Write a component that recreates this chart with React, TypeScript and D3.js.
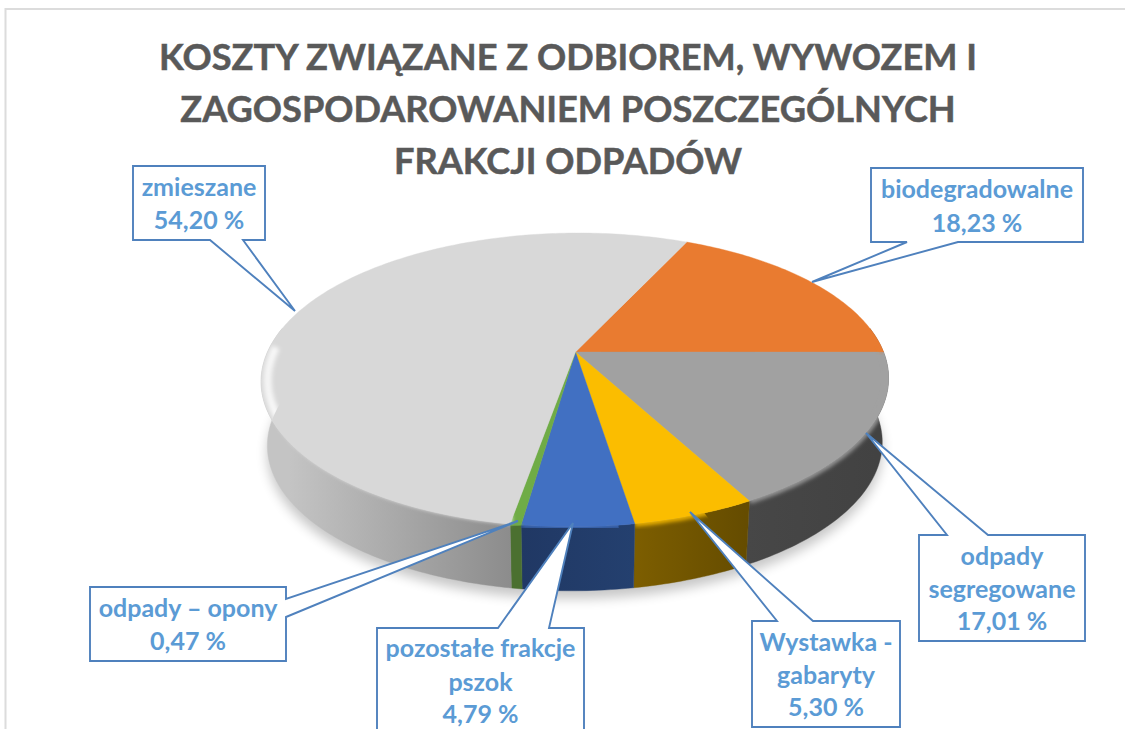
import React from "react";
import * as d3 from "d3";

// ---- data ----
const titleLines = [
  "KOSZTY ZWIĄZANE Z ODBIOREM, WYWOZEM I",
  "ZAGOSPODAROWANIEM POSZCZEGÓLNYCH",
  "FRAKCJI ODPADÓW",
];
const categories = [
  "biodegradowalne",
  "odpady segregowane",
  "Wystawka - gabaryty",
  "pozostałe frakcje pszok",
  "odpady – opony",
  "zmieszane",
];
const values = [18.23, 17.01, 5.3, 4.79, 0.47, 54.2];
const categoryLines = [
  ["biodegradowalne"],
  ["odpady", "segregowane"],
  ["Wystawka -", "gabaryty"],
  ["pozostałe frakcje", "pszok"],
  ["odpady – opony"],
  ["zmieszane"],
];

// ---- styles and layout ----
const W = 1125;
const H = 729;
const topColors = ["#e97b30", "#a1a1a1", "#fbbd00", "#4170c2", "#6fac46", "#d8d8d8"];
const wallStops = [
  ["#7f3f10", "#7f3f10"],
  ["#474747", "#424242"],
  ["#7d5e00", "#654c00"],
  ["#203864", "#24406f"],
  ["#4b7030", "#4b7030"],
  ["#c4c4c4", "#8c8c8c"],
];
const lineColor = "#4f81bd";
const textColor = "#5b9bd5";
const callouts = [
  { box: [871, 168, 1083, 242], side: "bottom", base: [958, 907], tip: [812, 282], baselines: [198, 232] },
  { box: [919, 535, 1085, 641], side: "top", base: [947, 988], tip: [866, 433], baselines: [565, 598, 630] },
  { box: [752, 621, 900, 727], side: "top", base: [777, 813], tip: [690, 512], baselines: [651, 684, 716] },
  { box: [377, 628, 584, 760], side: "top", base: [498, 549], tip: [573, 523], baselines: [657, 691, 723] },
  { box: [90, 587, 286, 661], side: "right", base: [599, 617], tip: [518, 521], baselines: [617, 650] },
  { box: [133, 166, 265, 240], side: "bottom", base: [243, 210], tip: [295, 311], baselines: [196, 229] },
];

// ---- perspective pie geometry ----
const cx = 575.5;
const cy = 352;
const k = 0.19;
const Ry = 141.6;
const Rx = 308;
const depth = 64;
const shear = 0.025;
const startDeg = 24.4;

const sx = d3.scaleLinear().domain([-1, 1]).range([cx - Rx, cx + Rx]);
const sy = d3.scaleLinear().domain([-1, 1]).range([cy - Ry, cy + Ry]);
type P = [number, number];
const project = (a: number, r = 1): P => {
  const u = r * Math.sin(a);
  const v = -r * Math.cos(a);
  const w = 1 - k * v;
  const y = sy(v / w);
  return [sx(u / w) - shear * (y - cy), y];
};
const lower = ([x, y]: P): P => [cx + (x - cx) * 0.98, cy + depth + (y - cy)];
const arcPts = (a0: number, a1: number, r = 1): P[] => {
  const n = Math.max(2, Math.ceil(Math.abs(a1 - a0) * 60));
  return d3.range(n + 1).map((i) => project(a0 + ((a1 - a0) * i) / n, r));
};
const line = d3.line<P>().x((d) => d[0]).y((d) => d[1]);
const closed = (pts: P[]) => (line(pts) as string) + "Z";
const rad = (d: number) => (d * Math.PI) / 180;

const arcs = d3
  .pie<number>()
  .sort(null)
  .startAngle(rad(startDeg))
  .endAngle(rad(startDeg) + 2 * Math.PI)(values);

const visFrom = rad(80);
const visTo = rad(280);
const pct = (v: number) => d3.format(".2f")(v).replace(".", ",") + " %";

function calloutPath(c: (typeof callouts)[number]) {
  const [x0, y0, x1, y1] = c.box;
  const t = c.tip as P;
  const [b0, b1] = c.base;
  let pts: P[];
  if (c.side === "top") pts = [[x0, y0], [b0, y0], t, [b1, y0], [x1, y0], [x1, y1], [x0, y1]];
  else if (c.side === "bottom") pts = [[x0, y0], [x1, y0], [x1, y1], [b0, y1], t, [b1, y1], [x0, y1]];
  else pts = [[x0, y0], [x1, y0], [x1, b0], t, [x1, b1], [x1, y1], [x0, y1]];
  return closed(pts);
}

export default function App() {
  const full = arcPts(0, 2 * Math.PI);
  return (
    <svg
      width={W}
      height={H}
      viewBox={`0 0 ${W} ${H}`}
      style={{ position: "absolute", left: 0, top: 0, display: "block", background: "#fff" }}
    >
      <defs>
        <filter id="shadow" x="-10%" y="-20%" width="120%" height="140%">
          <feGaussianBlur stdDeviation="6" />
        </filter>
        <filter id="rimBlur" x="-20%" y="-20%" width="140%" height="140%">
          <feGaussianBlur stdDeviation="1.9" />
        </filter>
        <linearGradient id="whiteFade" gradientUnits="userSpaceOnUse" x1={262} x2={295} y1={0} y2={0}>
          <stop offset="0" stopColor="#fff" stopOpacity={0.7} />
          <stop offset="1" stopColor="#fff" stopOpacity={1} />
        </linearGradient>
        {arcs.map((a, i) => {
          const s = lower(project(Math.max(a.startAngle, visFrom)));
          const e = lower(project(Math.min(a.endAngle, visTo)));
          return (
            <linearGradient
              key={i}
              id={`wall${i}`}
              gradientUnits="userSpaceOnUse"
              x1={Math.min(s[0], e[0])}
              x2={Math.max(s[0], e[0])}
              y1={0}
              y2={0}
            >
              <stop offset="0" stopColor={wallStops[i][0]} />
              <stop offset="1" stopColor={wallStops[i][1]} />
            </linearGradient>
          );
        })}
        {arcs.map((a, i) => {
          const top = arcPts(a.startAngle, a.endAngle);
          return (
            <clipPath key={i} id={`sector${i}`}>
              <path d={closed([[cx, cy], ...top, ...top.map(lower).reverse()])} />
            </clipPath>
          );
        })}
      </defs>

      {/* frame */}
      <path d={`M5.5,${H}V9H${W}`} fill="none" stroke="#dcdcdc" strokeWidth={2} />

      {/* title */}
      <g fontFamily="Lato" fontWeight={700} fontSize={36.2} fill="#595959" textAnchor="middle">
        {titleLines.map((t, i) => (
          <text key={t} x={568} y={[70, 122, 174][i]} stroke="#595959" strokeWidth={0.5}>
            {t}
          </text>
        ))}
      </g>

      {/* soft shadow */}
      <path
        d={closed(full.map(lower))}
        transform="translate(0,8)"
        fill="#000"
        opacity={0.22}
        filter="url(#shadow)"
      />

      {/* side wall */}
      {arcs.map((a, i) => {
        const s = Math.max(a.startAngle, visFrom);
        const e = Math.min(a.endAngle, visTo);
        if (e <= s) return null;
        const rim = arcPts(s, e);
        return (
          <path
            key={i}
            d={closed([...rim, ...rim.map(lower).reverse()])}
            fill={`url(#wall${i})`}
            stroke={`url(#wall${i})`}
            strokeWidth={0.4}
          />
        );
      })}

      {/* top face */}
      {arcs.map((a, i) => (
        <path
          key={i}
          d={closed([[cx, cy], ...arcPts(a.startAngle, a.endAngle)])}
          fill={topColors[i]}
          stroke={topColors[i]}
          strokeWidth={0.4}
        />
      ))}

      {/* soft bevel along the front rim */}
      {arcs.map((a, i) => {
        const isLight = i === arcs.length - 1;
        const s = Math.max(a.startAngle, rad(84));
        const e = Math.min(a.endAngle, rad(isLight ? 272 : 276));
        if (e <= s) return null;
        return (
          <g key={i} clipPath={`url(#sector${i})`}>
            <path
              d={line(arcPts(s, e, isLight ? 0.98 : 1)) as string}
              fill="none"
              stroke={isLight ? "url(#whiteFade)" : topColors[i]}
              strokeWidth={isLight ? 8 : 5}
              filter="url(#rimBlur)"
            />
          </g>
        );
      })}

      {/* callouts */}
      {callouts.map((c, i) => {
        const mid = (c.box[0] + c.box[2]) / 2;
        const rows = [...categoryLines[i], pct(values[i])];
        return (
          <g key={categories[i]}>
            <path d={calloutPath(c)} fill="#fff" stroke={lineColor} strokeWidth={1.9} strokeLinejoin="miter" />
            <text fontFamily="Lato" fontWeight={700} fontSize={25} fill={textColor} textAnchor="middle">
              {rows.map((r, j) => (
                <tspan key={j} x={mid} y={c.baselines[j]}>
                  {r}
                </tspan>
              ))}
            </text>
          </g>
        );
      })}
    </svg>
  );
}
